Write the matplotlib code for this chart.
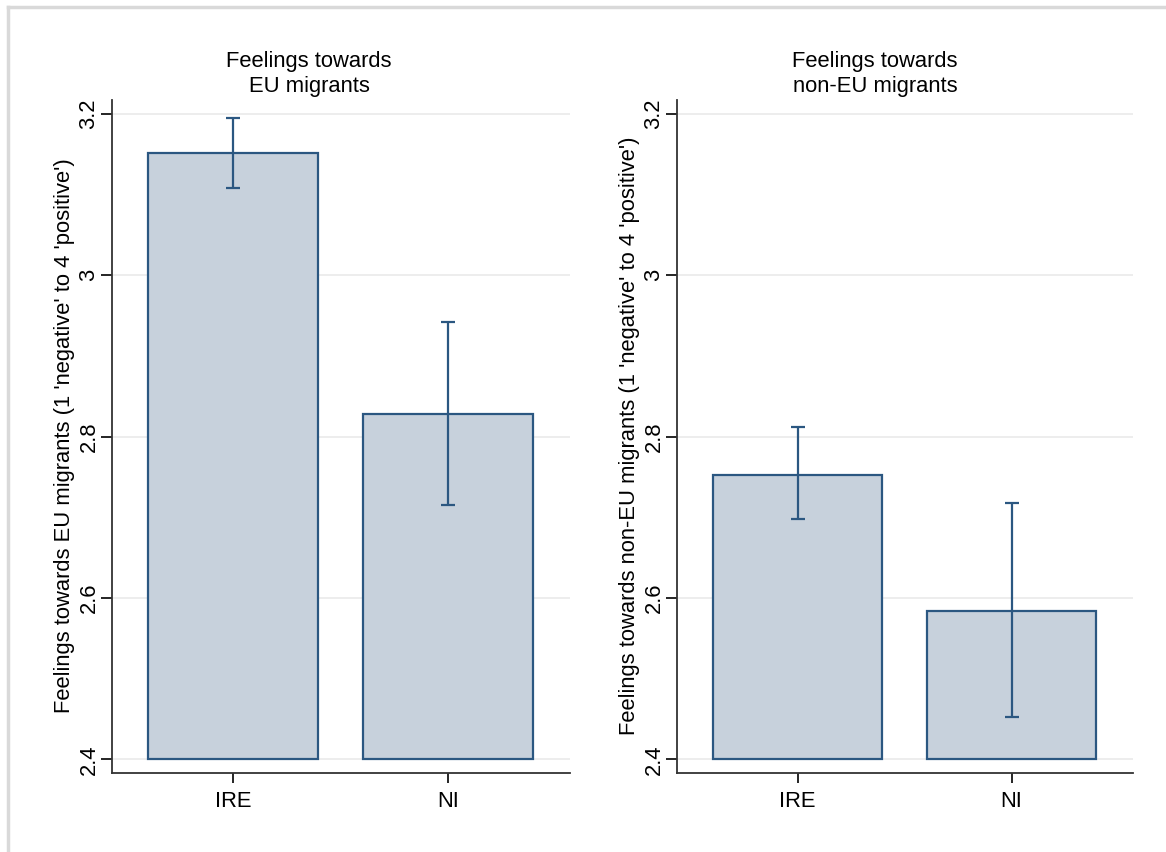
#!/usr/bin/env python3
"""Bar charts with CIs: feelings towards EU and non-EU migrants, IRE vs NI."""
import matplotlib
matplotlib.use("Agg")
import matplotlib.pyplot as plt
from matplotlib.lines import Line2D

plt.rcParams["font.family"] = ["Liberation Sans", "DejaVu Sans"]

groups = ["IRE", "NI"]
panel_titles = ["Feelings towards\nEU migrants", "Feelings towards\nnon-EU migrants"]
ylabels = [
    "Feelings towards EU migrants (1 'negative' to 4 'positive')",
    "Feelings towards non-EU migrants (1 'negative' to 4 'positive')",
]
eu_mean = [3.151, 2.828]
eu_low = [3.108, 2.715]
eu_high = [3.195, 2.942]
noneu_mean = [2.752, 2.584]
noneu_low = [2.698, 2.452]
noneu_high = [2.812, 2.718]
yticks = [2.4, 2.6, 2.8, 3.0, 3.2]
ytick_labels = ["2.4", "2.6", "2.8", "3", "3.2"]

FILL = "#c7d1dc"
EDGE = "#2b5781"
W, H = 1166, 852
FS = 15.8

fig = plt.figure(figsize=(W / 100, H / 100), dpi=100)

# light grey outer frame (cropped at right/bottom like the source)
fig.add_artist(Line2D([7.5 / W, 7.5 / W], [0, 1 - 7 / H], transform=fig.transFigure,
                      color="#d9d9d9", lw=2.5))
fig.add_artist(Line2D([7.5 / W, 1], [1 - 7 / H, 1 - 7 / H], transform=fig.transFigure,
                      color="#d9d9d9", lw=2.5))

panels = [
    (112, 570, eu_mean, eu_low, eu_high, 309, 65),
    (677, 1133, noneu_mean, noneu_low, noneu_high, 875, 629),
]
bottom_px, top_px = 773, 100

for i, (x0, x1, mean, low, high, tx, lx) in enumerate(panels):
    ax = fig.add_axes([x0 / W, 1 - bottom_px / H, (x1 - x0) / W, (bottom_px - top_px) / H])
    pos = list(range(len(groups)))
    base = 2.4
    ax.bar(pos, [m - base for m in mean], bottom=base, width=0.79, color=FILL,
           edgecolor=EDGE, linewidth=1.6, zorder=2)
    err = [[m - l for m, l in zip(mean, low)], [h - m for m, h in zip(mean, high)]]
    ax.errorbar(pos, mean, yerr=err, fmt="none", ecolor=EDGE, elinewidth=1.6,
                capsize=5, capthick=1.6, zorder=3)
    ax.set_xlim(-0.563, 1.567)
    ax.set_ylim(2.383, 3.217)
    ax.set_yticks(yticks)
    ax.set_yticklabels(ytick_labels, rotation=90, va="center", fontsize=FS)
    ax.set_xticks(pos)
    ax.set_xticklabels(groups, fontsize=FS)
    ax.tick_params(axis="y", length=8, width=1.2, pad=1)
    ax.tick_params(axis="x", length=7, width=1.2, pad=6)
    ax.grid(axis="y", color="#ececec", linewidth=1.3, zorder=0)
    ax.set_axisbelow(True)
    for s in ["top", "right"]:
        ax.spines[s].set_visible(False)
    for s in ["left", "bottom"]:
        ax.spines[s].set_color("#333333")
        ax.spines[s].set_linewidth(1.3)
    fig.text(tx / W, 1 - 74 / H, panel_titles[i], ha="center", va="center",
             fontsize=FS, linespacing=1.2)
    fig.text(lx / W, 1 - 436 / H, ylabels[i], rotation=90,
             ha="center", va="center", fontsize=FS)

fig.savefig("out.png", dpi=100, facecolor="white")
